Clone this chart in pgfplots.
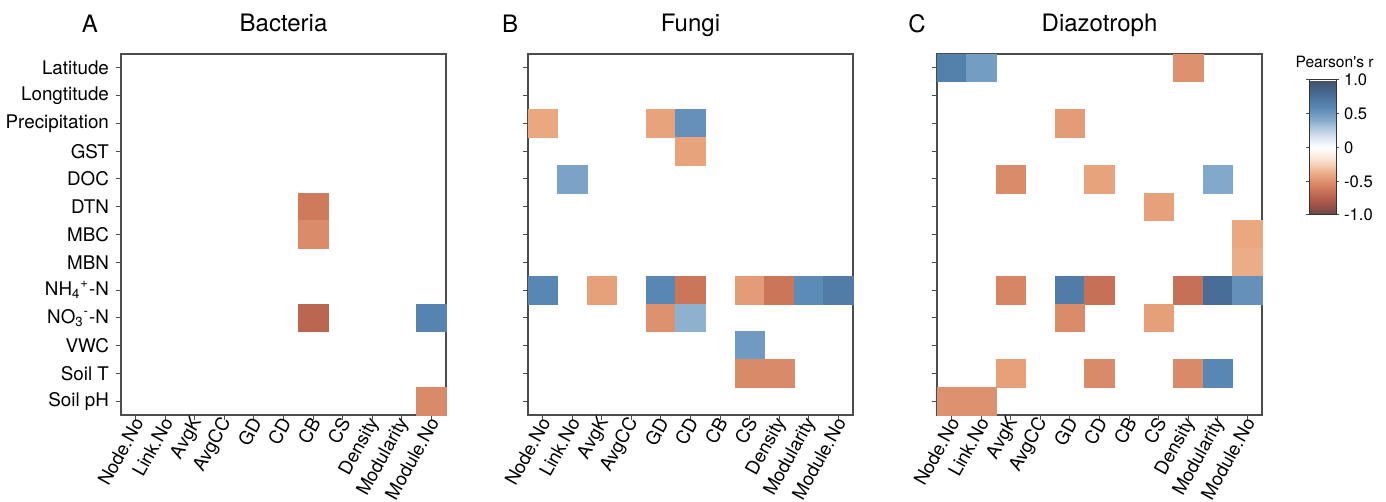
\documentclass[border=0pt]{standalone}
\usepackage{fontspec}
\setmainfont{TeX Gyre Heros}
\usepackage{pgfplots}
\pgfplotsset{compat=1.18}

\pgfplotsset{
  colormap={pearson}{
    rgb255(0)=(105,70,68) rgb255(1)=(172,88,74) rgb255(2)=(208,122,92)
    rgb255(3)=(234,168,128) rgb255(4)=(248,222,202) rgb255(5)=(255,255,255)
    rgb255(6)=(205,220,236) rgb255(7)=(135,172,205) rgb255(8)=(88,135,180)
    rgb255(9)=(70,106,148) rgb255(10)=(68,80,104)},
  heat/.style={
    anchor=south west,
    scale only axis, width=162.5pt, height=180.5pt,
    xmin=-0.5, xmax=10.5, ymin=-0.5, ymax=12.5,
    xtick={0,...,10}, ytick={0,...,12},
    xticklabels={Node.No,Link.No,AvgK,AvgCC,GD,CD,CB,CS,Density,Modularity,Module.No},
    tick pos=left, tick align=outside, major tick length=2.5pt,
    axis line style={draw=black!70, line width=0.6pt},
    every tick/.style={black!70, line width=0.5pt},
    yticklabel style={font=\fontsize{9.4}{11}\selectfont},
    xticklabel style={font=\fontsize{9.3}{11}\selectfont, rotate=61, anchor=east, inner sep=1pt, xshift=2pt, yshift=-1pt},
    colormap name=pearson, point meta min=-1, point meta max=1,
    title style={font=\fontsize{12}{14}\selectfont, at={(0.5,1)}, anchor=base, yshift=5pt},
  },
  hmcells/.style={scatter, only marks, mark=square*, mark size=7.39pt,
    scatter/use mapped color={draw=mapped color, fill=mapped color},
    mark options={yscale=0.94, line width=0.3pt}},
}

\begin{document}
\begin{tikzpicture}
\useasboundingbox (0,0) rectangle (693pt,251pt);

% A: bacteria (rows from bottom: Soil pH = 0 ... Latitude = 12)
\begin{axis}[heat, at={(60.5pt,43.5pt)}, title={Bacteria},
  yticklabels={Soil pH,Soil T,VWC,NO\textsubscript{3}\textsuperscript{-}-N,
    NH\textsubscript{4}\textsuperscript{+}-N,MBN,MBC,DTN,DOC,GST,Precipitation,Longtitude,Latitude}]
\addplot[hmcells, point meta=\thisrow{c}] table {
x y c
6 7 -0.60
6 6 -0.52
6 3 -0.72
10 3 0.62
10 0 -0.53
};
\end{axis}

% B: fungi
\begin{axis}[heat, at={(264pt,43.5pt)}, title={Fungi}, yticklabels={}]
\addplot[hmcells, point meta=\thisrow{c}] table {
x y c
0 10 -0.40
4 10 -0.42
5 10 0.55
5 9 -0.42
1 8 0.45
0 4 0.60
2 4 -0.43
4 4 0.60
5 4 -0.63
7 4 -0.45
8 4 -0.63
9 4 0.58
10 4 0.68
4 3 -0.50
5 3 0.38
7 2 0.50
7 1 -0.53
8 1 -0.53
};
\end{axis}

% C: diazotroph
\begin{axis}[heat, at={(468.5pt,43.5pt)}, title={Diazotroph}, yticklabels={},
  colorbar,
  colorbar style={
    at={(parent axis.north east)}, anchor=north west, xshift=15pt, yshift=-13pt,
    scale only axis, width=13.5pt, height=67.5pt,
    ytick={-1,-0.5,0,0.5,1}, yticklabels={-1.0,-0.5,0,0.5,1.0},
    yticklabel style={font=\fontsize{8.3}{10}\selectfont, xshift=-1pt},
    title={Pearson\textquotesingle s r},
    title style={font=\fontsize{7.8}{9}\selectfont, at={(0.5,1)}, anchor=base, yshift=0pt, xshift=6pt},
    axis line style={draw=black!80, line width=0.5pt},
    major tick length=1.5pt, tick align=outside,
  }]
\addplot[hmcells, point meta=\thisrow{c}] table {
x y c
0 12 0.65
1 12 0.48
8 12 -0.50
4 10 -0.45
2 8 -0.52
5 8 -0.42
9 8 0.42
7 7 -0.43
10 6 -0.40
10 5 -0.38
2 4 -0.55
4 4 0.68
5 4 -0.66
8 4 -0.66
9 4 0.78
10 4 0.55
4 3 -0.52
7 3 -0.44
2 1 -0.43
5 1 -0.53
8 1 -0.53
9 1 0.60
0 0 -0.50
1 0 -0.50
};
\end{axis}

\node[font=\fontsize{12}{14}\selectfont, anchor=base] at (45pt,234.5pt) {A};
\node[font=\fontsize{12}{14}\selectfont, anchor=base] at (255pt,234.5pt) {B};
\node[font=\fontsize{12}{14}\selectfont, anchor=base] at (458.5pt,234.5pt) {C};
\end{tikzpicture}
\end{document}
